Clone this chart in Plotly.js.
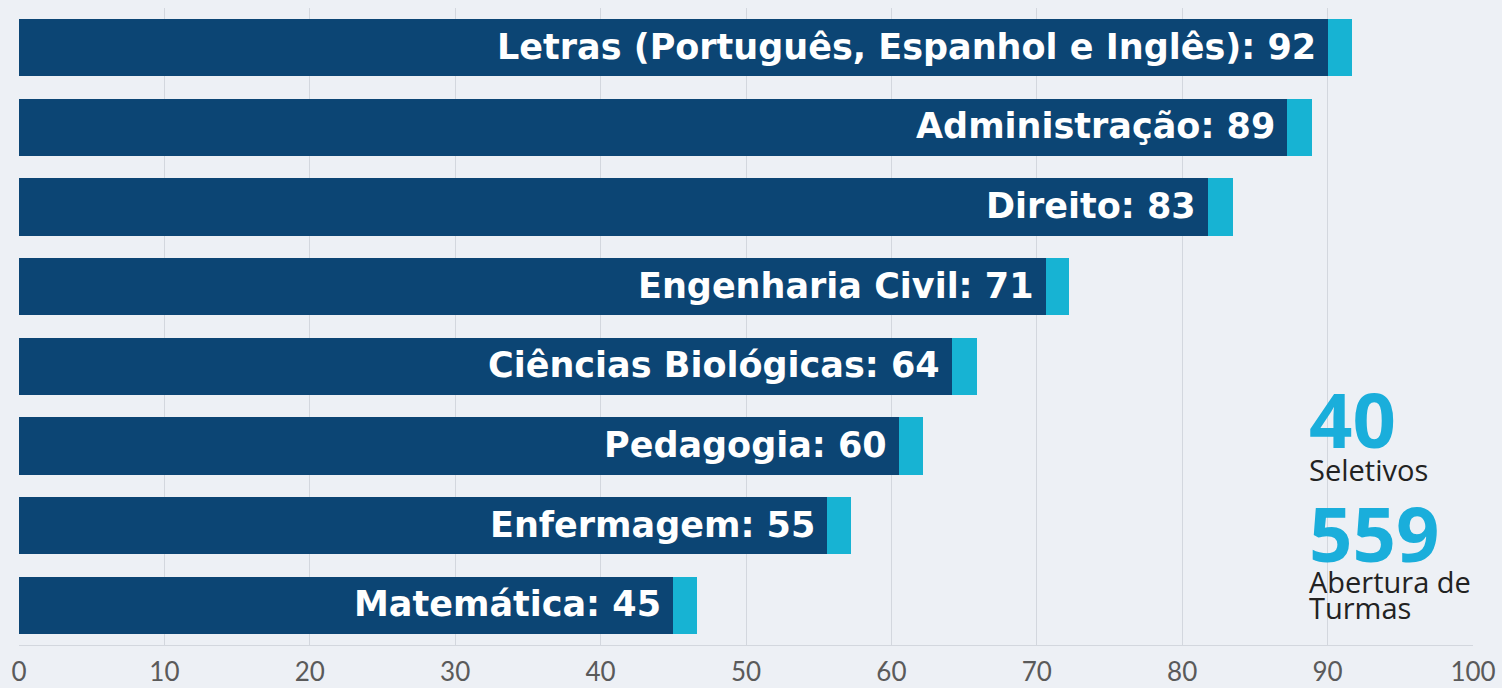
<!DOCTYPE html>
<html>
<head>
<meta charset="utf-8">
<script src="https://cdn.plot.ly/plotly-3.0.1.min.js"></script>
<style>
html,body{margin:0;padding:0;background:#edf0f5;}
#chart{width:1502px;height:688px;}
</style>
</head>
<body>
<div id="chart"></div>
<script>
// Categories (top to bottom)
const cursos = ["Letras (Português, Espanhol e Inglês)", "Administração", "Direito", "Engenharia Civil", "Ciências Biológicas", "Pedagogia", "Enfermagem", "Matemática"];
// Values shown in labels
const valores = [92, 89, 83, 71, 64, 60, 55, 45];
// Dark bar length
const barraPrincipal = [90.0, 87.2, 81.8, 70.6, 64.2, 60.5, 55.6, 45.0];
// Light end-cap length
const barraPonta = [1.7, 1.7, 1.7, 1.6, 1.7, 1.7, 1.6, 1.6];
const xTicks = [0, 10, 20, 30, 40, 50, 60, 70, 80, 90, 100];
const seletivos = "40";
const turmas = "559";

const labels = cursos.map((c, i) => c + ": " + valores[i]);

const traces = [
  {type: "bar", orientation: "h", y: cursos, x: barraPrincipal,
   marker: {color: "#0c4574"}, hoverinfo: "none"},
  {type: "bar", orientation: "h", y: cursos, x: barraPonta,
   marker: {color: "#17b3d3"}, hoverinfo: "none"}
];

const annotations = cursos.map((c, i) => ({
  x: barraPrincipal[i], y: c, xref: "x", yref: "y",
  text: "<b>" + labels[i] + "</b>", showarrow: false,
  xanchor: "right", yanchor: "middle", xshift: -10, yshift: 1,
  font: {family: "DejaVu Sans", size: 35, color: "#ffffff"}
}));

const xr = 0.886;
annotations.push(
  {xref: "paper", yref: "paper", x: xr, y: 0.347, xanchor: "left", yanchor: "middle", yshift: 5,
   text: "<b>" + seletivos + "</b>", showarrow: false,
   font: {family: "Open Sans", size: 76, color: "#1aaedb"}},
  {xref: "paper", yref: "paper", x: xr, y: 0.273, xanchor: "left", yanchor: "middle", yshift: 2,
   text: "Seletivos", showarrow: false,
   font: {family: "Open Sans", size: 29, color: "#222222"}},
  {xref: "paper", yref: "paper", x: xr, y: 0.168, xanchor: "left", yanchor: "middle", yshift: 5,
   text: "<b>" + turmas + "</b>", showarrow: false,
   font: {family: "Open Sans", size: 76, color: "#1aaedb"}},
  {xref: "paper", yref: "paper", x: xr, y: 0.097, xanchor: "left", yanchor: "middle", yshift: 2,
   text: "Abertura de", showarrow: false,
   font: {family: "Open Sans", size: 29, color: "#222222"}},
  {xref: "paper", yref: "paper", x: xr, y: 0.0565, xanchor: "left", yanchor: "middle", yshift: 2,
   text: "Turmas", showarrow: false,
   font: {family: "Open Sans", size: 29, color: "#222222"}}
);

const layout = {
  width: 1502, height: 688,
  margin: {l: 19, r: 29, t: 8, b: 43},
  paper_bgcolor: "#edf0f5", plot_bgcolor: "#edf0f5",
  barmode: "stack", bargap: 0.28, showlegend: false,
  xaxis: {range: [0, 100], tickvals: xTicks, ticktext: xTicks.map(String),
          showgrid: true, gridcolor: "#d3d7de", gridwidth: 1,
          zeroline: false, showline: true, linecolor: "#d3d7de", linewidth: 1,
          ticks: "", ticklabelstandoff: 4, fixedrange: true,
          tickfont: {family: "Lato", size: 26, color: "#5a5a5a"}},
  yaxis: {autorange: "reversed", showticklabels: false, showgrid: false,
          zeroline: false, ticks: "", fixedrange: true},
  annotations: annotations
};

Plotly.newPlot("chart", traces, layout, {displayModeBar: false, staticPlot: true});
</script>
</body>
</html>
